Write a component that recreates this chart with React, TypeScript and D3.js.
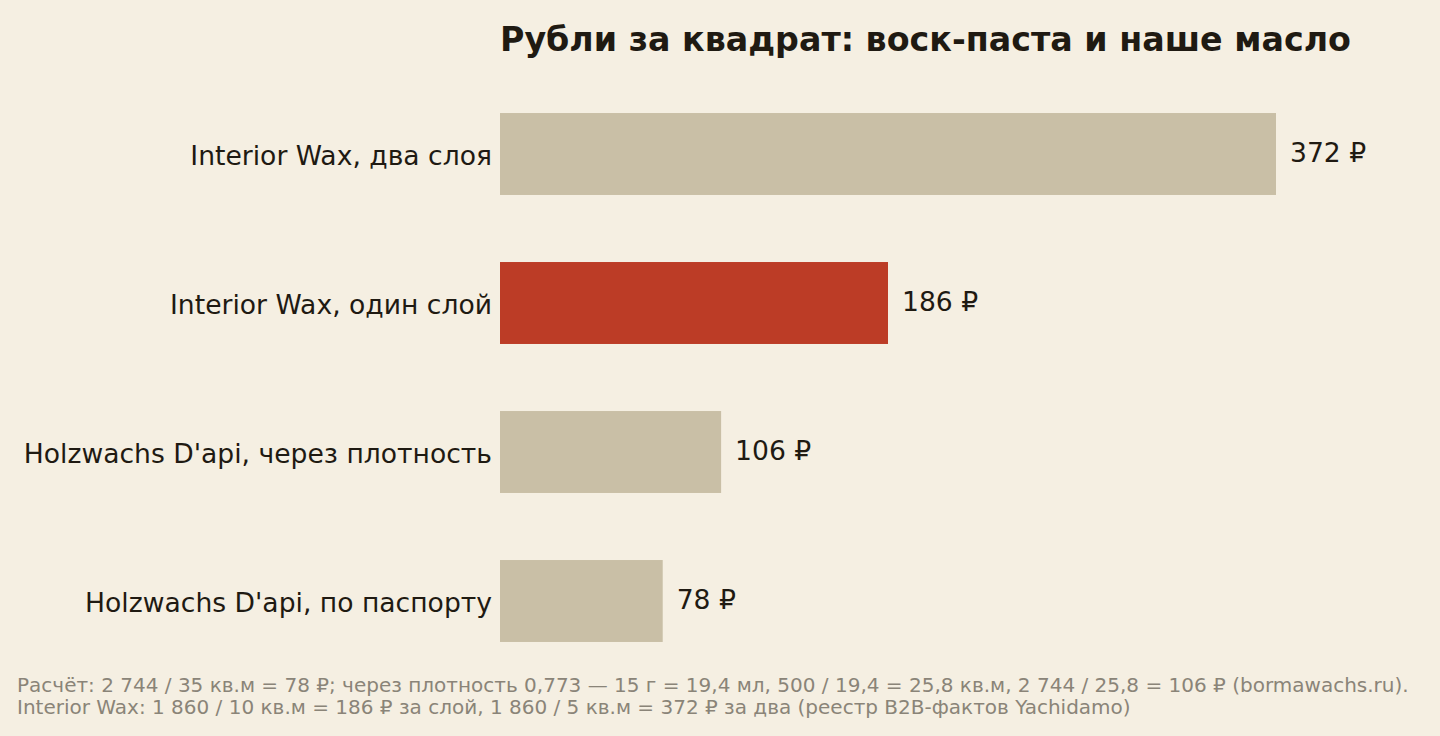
import React from "react";
import * as d3 from "d3";

const categories = [
  "Interior Wax, два слоя",
  "Interior Wax, один слой",
  "Holzwachs D'api, через плотность",
  "Holzwachs D'api, по паспорту",
];
const values = [372, 186, 106, 78];
const highlight = [false, true, false, false];
const valueLabels = ["372 ₽", "186 ₽", "106 ₽", "78 ₽"];

const title = "Рубли за квадрат: воск-паста и наше масло";
const footnotes = [
  "Расчёт: 2 744 / 35 кв.м = 78 ₽; через плотность 0,773 — 15 г = 19,4 мл, 500 / 19,4 = 25,8 кв.м, 2 744 / 25,8 = 106 ₽ (bormawachs.ru).",
  "Interior Wax: 1 860 / 10 кв.м = 186 ₽ за слой, 1 860 / 5 кв.м = 372 ₽ за два (реестр B2B-фактов Yachidamo)",
];

const W = 1440;
const H = 736;
const font = "'DejaVu Sans', sans-serif";

const App = () => {
  const x = d3.scaleLinear().domain([0, 372]).range([500, 1276]);
  const y = d3
    .scaleBand()
    .domain(categories)
    .range([79.5, 675.5])
    .paddingInner(0.45)
    .paddingOuter(0.225);

  return (
    <svg
      width={W}
      height={H}
      viewBox={`0 0 ${W} ${H}`}
      style={{ position: "absolute", left: 0, top: 0, background: "#f5efe2" }}
    >
      <rect width={W} height={H} fill="#f5efe2" />
      <text x={500} y={51} fontFamily={font} fontWeight="bold" fontSize={33.3} fill="#1f1a12">
        {title}
      </text>

      {categories.map((c, i) => {
        const cy = y(c)! + y.bandwidth() / 2;
        return (
          <g key={c}>
            <rect
              x={x(0)}
              y={y(c)}
              width={x(values[i]) - x(0)}
              height={y.bandwidth()}
              fill={highlight[i] ? "#bc3c26" : "#c9bfa6"}
            />
            <text
              x={492}
              y={cy + 1.5}
              textAnchor="end"
              dominantBaseline="central"
              fontFamily={font}
              fontSize={26.6}
              fill="#1f1a12"
            >
              {c}
            </text>
            <text
              x={x(values[i]) + 14}
              y={cy - 1.5}
              dominantBaseline="central"
              fontFamily={font}
              fontSize={26.6}
              fill="#1f1a12"
            >
              {valueLabels[i]}
            </text>
          </g>
        );
      })}

      {footnotes.map((t, i) => (
        <text
          key={i}
          x={17}
          y={692 + i * 22}
          fontFamily={font}
          fontSize={20}
          fill="#8a8478"
        >
          {t}
        </text>
      ))}
    </svg>
  );
};

export default App;
